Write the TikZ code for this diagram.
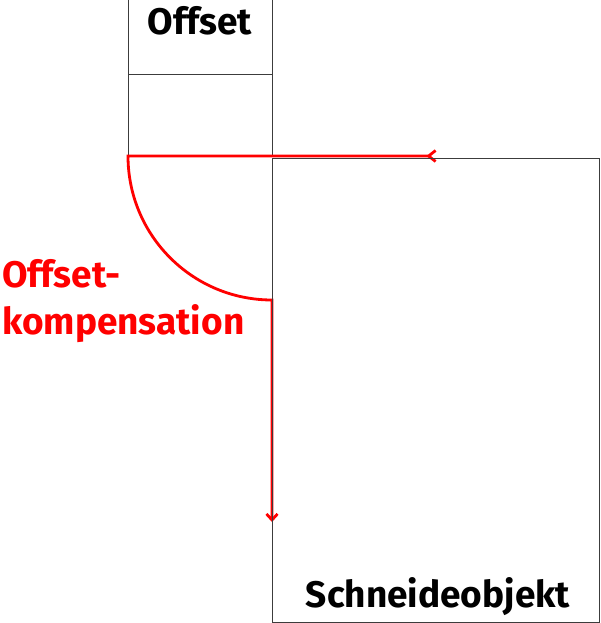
\documentclass[tikz,border=0pt]{standalone}
\usepackage{fontspec}
\setmainfont{Fira Sans}
\usepackage{tikz}
\usetikzlibrary{arrows.meta, positioning, calc}
\definecolor{frame}{RGB}{60,60,60}
\tikzstyle{box} = [draw=frame, line width=0.9pt]
\tikzstyle{label} = [font=\fontsize{37}{47}\selectfont\bfseries, inner sep=0pt]
\tikzstyle{comp} = [red, line width=2.8pt]

\begin{document}
\begin{tikzpicture}[x=1pt, y=-1pt]
\useasboundingbox (0,0) rectangle (600,623);

% Offset column
\coordinate (offtl) at (128,-5);
\coordinate (offbr) at (272,156);
\coordinate (offmid) at (128,74);
\draw [box] (offtl) rectangle (offbr);
\draw [box] (offmid) -- (offmid -| offbr);

% Compensation path
\coordinate (start) at (437,156);
\coordinate (corner) at (128,156);
\coordinate (arcend) at (272,300);
\coordinate (stop) at (272,522);
\draw [comp, {Straight Barb[reversed, length=7pt, width=11pt]}-{Straight Barb[length=6pt, width=11pt]}]
  (start) -- (corner) arc[start angle=180, end angle=90, radius=144] -- (stop);

% Workpiece
\node (work) [box, rectangle, minimum width=327pt, minimum height=464pt, anchor=north west, inner sep=0pt] at (272,157.5) {};

% Labels
\node (offset) [label, anchor=base] at (200,35) {Offset};
\node (cut) [label, anchor=base] at (438,607) {Schneideobjekt};
\node (comptext) [label, red, align=left, anchor=base west] at (2,334) {Offset-\\kompensation};

\end{tikzpicture}
\end{document}
